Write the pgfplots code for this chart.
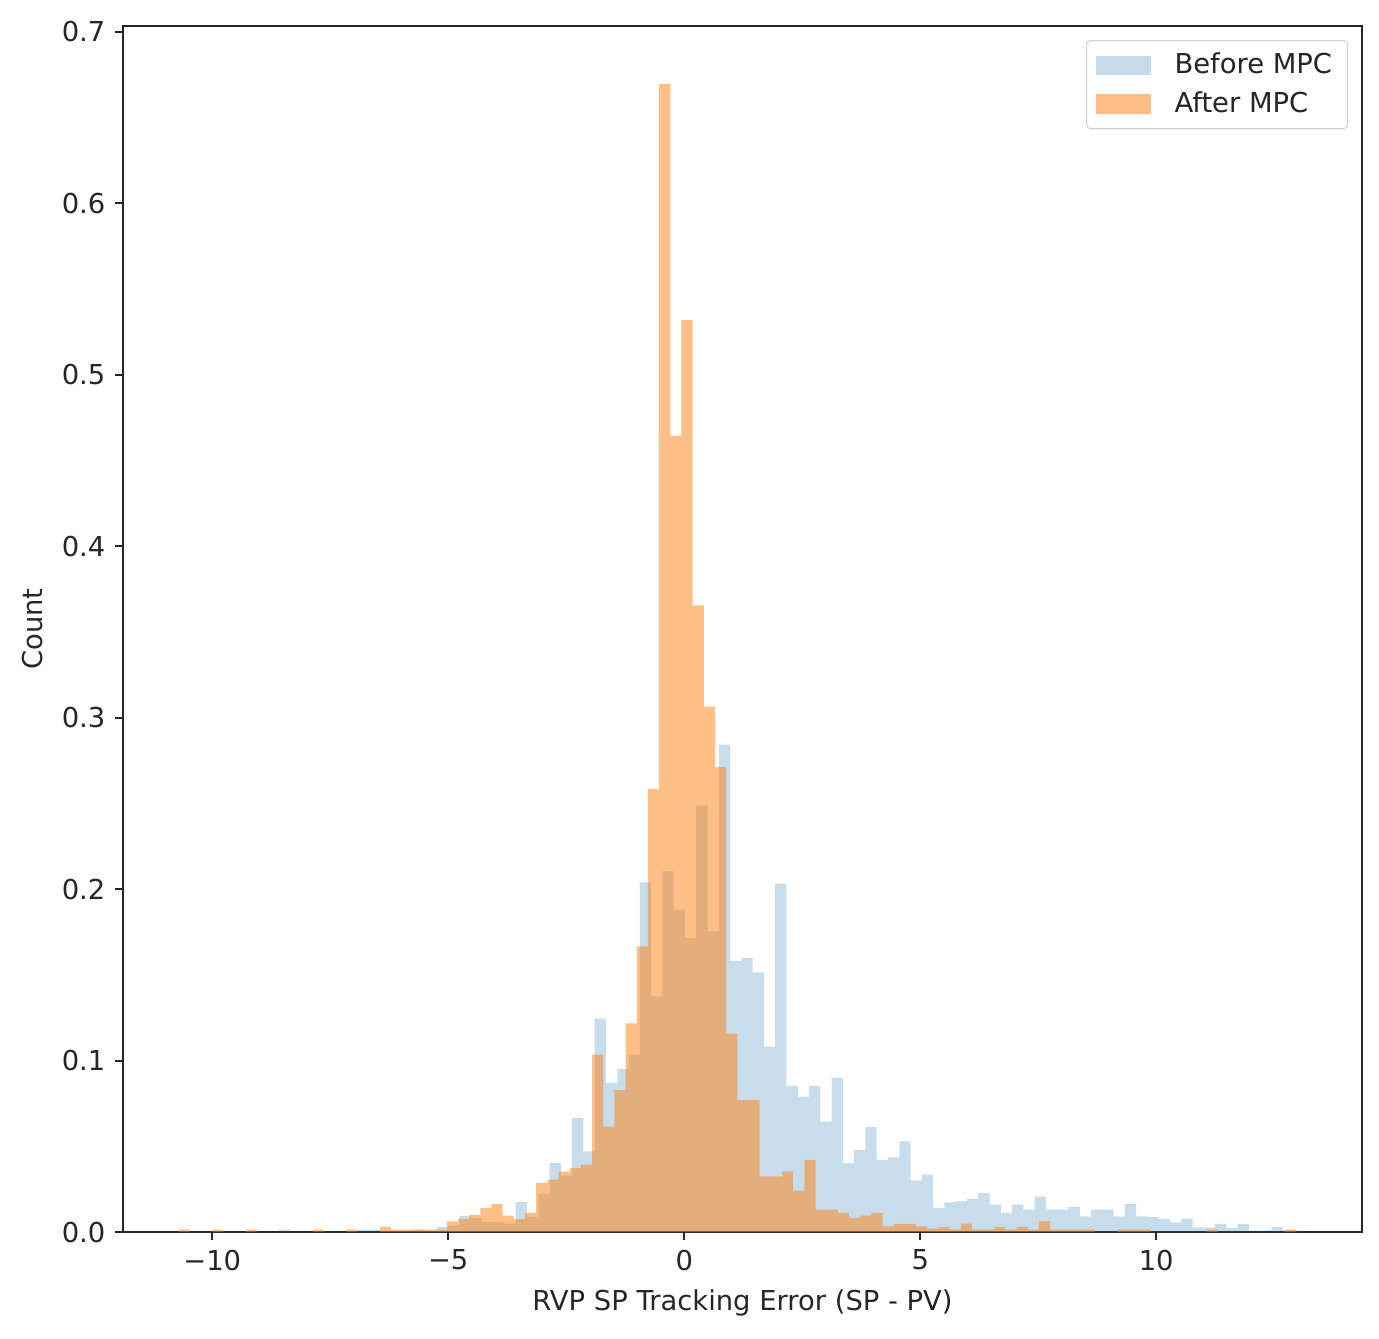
\documentclass[border=0pt]{standalone}
\usepackage{fontspec}
\setmainfont{DejaVu Sans}
\usepackage{pgfplots}
\usepackage{pgfplotstable}
\pgfplotsset{compat=1.18}

\definecolor{tabblue}{RGB}{31,119,180}
\definecolor{taborange}{RGB}{255,127,14}

% left bin edge, density
\pgfplotstableread{
x y
-10.740 0
-10.501 0
-10.262 0
-10.023 0
-9.784 0
-9.545 0
-9.306 0
-9.067 0
-8.828 0
-8.589 0.0015
-8.350 0
-8.111 0
-7.872 0
-7.633 0
-7.394 0
-7.155 0
-6.916 0.0015
-6.677 0.0015
-6.438 0
-6.199 0
-5.960 0
-5.721 0.0015
-5.482 0
-5.243 0.003
-5.004 0.004
-4.765 0.0095
-4.526 0.008
-4.287 0.006
-4.048 0.006
-3.809 0.005
-3.570 0.0175
-3.331 0.009
-3.092 0.022
-2.853 0.0403
-2.614 0.033
-2.375 0.0666
-2.136 0.0471
-1.897 0.1245
-1.658 0.087
-1.419 0.0952
-1.180 0.1035
-0.941 0.204
-0.702 0.1375
-0.463 0.2104
-0.224 0.188
0.015 0.1715
0.254 0.2488
0.493 0.1754
0.732 0.2843
0.971 0.158
1.210 0.160
1.449 0.1515
1.688 0.1082
1.927 0.2033
2.166 0.0853
2.405 0.079
2.644 0.0853
2.883 0.0645
3.122 0.0901
3.361 0.0403
3.600 0.048
3.839 0.0612
4.078 0.0422
4.317 0.0436
4.556 0.0529
4.795 0.0302
5.034 0.0335
5.273 0.0141
5.512 0.0173
5.751 0.0179
5.990 0.0193
6.229 0.0228
6.468 0.0160
6.707 0.0112
6.946 0.016
7.185 0.0131
7.424 0.0209
7.663 0.0131
7.902 0.0131
8.141 0.0146
8.380 0.0092
8.619 0.0131
8.858 0.0131
9.097 0.0092
9.336 0.0164
9.575 0.0092
9.814 0.0088
10.053 0.0077
10.292 0.0057
10.531 0.0079
10.770 0.0028
11.009 0.0028
11.248 0.0049
11.487 0.0024
11.726 0.0047
11.965 0.001
12.204 0.001
12.443 0.003
12.682 0.001
12.921 0.001
13.160 0
}\before

\pgfplotstableread{
x y
-10.710 0.0015
-10.473 0
-10.237 0
-10.000 0.0015
-9.763 0
-9.527 0
-9.290 0.0015
-9.053 0
-8.816 0
-8.580 0
-8.343 0
-8.106 0
-7.870 0.0015
-7.633 0
-7.396 0
-7.160 0.0015
-6.923 0
-6.686 0
-6.449 0.003
-6.213 0.0015
-5.976 0.0015
-5.739 0.0015
-5.503 0.0015
-5.266 0.0015
-5.029 0.0063
-4.793 0.0078
-4.556 0.0100
-4.319 0.0142
-4.082 0.0165
-3.846 0.0097
-3.609 0.0076
-3.372 0.0112
-3.136 0.0288
-2.899 0.0307
-2.662 0.0353
-2.426 0.0374
-2.189 0.0394
-1.952 0.1035
-1.715 0.0616
-1.479 0.0828
-1.242 0.1218
-1.005 0.1666
-0.769 0.2583
-0.532 0.6695
-0.295 0.4645
-0.059 0.5318
0.178 0.3655
0.415 0.3064
0.652 0.2711
0.888 0.1157
1.125 0.0771
1.362 0.0771
1.598 0.0325
1.835 0.0325
2.072 0.0354
2.309 0.0242
2.545 0.0422
2.782 0.0131
3.019 0.0131
3.255 0.0112
3.492 0.0083
3.729 0.0096
3.965 0.0112
4.202 0.0034
4.439 0.0048
4.676 0.0048
4.912 0.0034
5.149 0.0021
5.386 0.0031
5.622 0.0015
5.859 0.005
6.096 0.0015
6.332 0.0015
6.569 0.0031
6.806 0.0015
7.043 0.0031
7.279 0.0015
7.516 0.0064
7.753 0.0015
7.989 0.0015
8.226 0.0015
8.463 0.0015
8.699 0
8.936 0
9.173 0.0015
9.410 0.0015
9.646 0.0015
9.883 0
10.120 0
10.356 0
10.593 0
10.830 0
11.066 0.0015
11.303 0
11.540 0
11.777 0
12.013 0
12.250 0
12.487 0
12.723 0.0015
12.960 0
}\after

\begin{document}
\begin{tikzpicture}
\useasboundingbox (-44.9pt,-38.7pt) rectangle (458.4pt,449.7pt);
\begin{axis}[
    at={(0,0)}, anchor=south west,
    scale only axis,
    width=452.2pt, height=440.2pt,
    xmin=-11.89, xmax=14.36,
    ymin=0, ymax=0.7033,
    axis line style={line width=0.9pt, black!85},
    tick style={line width=0.8pt, black!85},
    tick align=outside,
    major tick length=2.9pt,
    xtick pos=left, ytick pos=left,
    xtick={-10,-5,0,5,10},
    xticklabels={−10,−5,0,5,10},
    ytick={0,0.1,0.2,0.3,0.4,0.5,0.6,0.7},
    yticklabels={0.0,0.1,0.2,0.3,0.4,0.5,0.6,0.7},
    ticklabel style={font=\fontsize{10}{12}\selectfont, text=black!85},
    xlabel={RVP SP Tracking Error (SP - PV)},
    ylabel={Count},
    label style={font=\fontsize{10}{12}\selectfont, text=black!85},
    xlabel style={at={(axis description cs:0.5,-0.0589)}, anchor=center},
    ylabel style={at={(axis description cs:-0.0734,0.5)}, anchor=center},
    legend cell align=left,
    legend image code/.code={\fill[sharp corners,#1] (0pt,-3.5pt) rectangle (20pt,3.5pt); \path (26.5pt,0pt);},
    legend style={at={(1,1)}, anchor=north east, xshift=-5.1pt, yshift=-5.1pt,
        draw=black!18, rounded corners=1.5pt, fill=white,
        font=\fontsize{10}{12}\selectfont, text=black!85,
        inner xsep=3.6pt, inner ysep=2.5pt, row sep=1pt},
]
\addplot[const plot mark left, draw=none, fill=tabblue, fill opacity=0.25] table {\before} \closedcycle;
\addlegendentry{Before MPC}
\addplot[const plot mark left, draw=none, fill=taborange, fill opacity=0.5] table {\after} \closedcycle;
\addlegendentry{After MPC}
\end{axis}
\end{tikzpicture}
\end{document}
